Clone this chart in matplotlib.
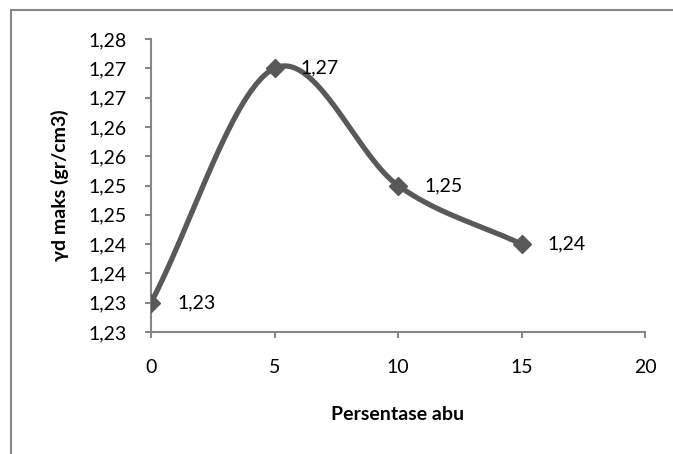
import numpy as np
import matplotlib.pyplot as plt
from matplotlib.patches import Rectangle
from matplotlib.ticker import FuncFormatter

plt.rcParams['font.family'] = ['Lato', 'DejaVu Sans']

persen_abu = [0, 5, 10, 15]
yd_maks = [1.23, 1.27, 1.25, 1.24]
y_ticks = [1.225, 1.23, 1.235, 1.24, 1.245, 1.25, 1.255, 1.26, 1.265, 1.27, 1.275]
x_ticks = [0, 5, 10, 15, 20]

line_col = '#595959'
axis_col = '#868686'


def koma(v, pos=None):
    return f"{v + 1e-9:.2f}".replace('.', ',')


def smooth(x, y, w, h, n=60):
    # excel-like smoothed line (catmull-rom bezier in screen units)
    px = np.array(x, float) / w
    py = np.array(y, float) / h
    pts = np.column_stack([px, py])
    k = len(pts)
    tan = np.zeros_like(pts)
    for i in range(k):
        a = pts[max(i - 1, 0)]
        b = pts[min(i + 1, k - 1)]
        tan[i] = (b - a) / (2 if 0 < i < k - 1 else 1)
    out = []
    t = np.linspace(0, 1, n)[:, None]
    for i in range(k - 1):
        p0, p3 = pts[i], pts[i + 1]
        p1 = p0 + tan[i] / 3
        p2 = p3 - tan[i + 1] / 3
        seg = ((1 - t) ** 3) * p0 + 3 * ((1 - t) ** 2) * t * p1 + 3 * (1 - t) * t ** 2 * p2 + t ** 3 * p3
        out.append(seg)
    out = np.vstack(out)
    return out[:, 0] * w, out[:, 1] * h


fig = plt.figure(figsize=(6.73, 4.54), dpi=100)
ax = fig.add_axes([151 / 673, 1 - 332 / 454, 494 / 673, 293 / 454])

sx, sy = smooth(persen_abu, yd_maks, 20 / 494, 0.05 / 293)
ax.plot(sx, sy, color=line_col, lw=3.8, solid_capstyle='round', zorder=2)
ax.plot(persen_abu, yd_maks, ls='none', marker='D', ms=9.5, color=line_col, zorder=3)

for xv, yv in zip(persen_abu, yd_maks):
    ax.annotate(koma(yv), (xv, yv), xytext=(19, 0), textcoords='offset points',
                ha='left', va='center', fontsize=14, color='black')

ax.set_xlim(0, 20)
ax.set_ylim(1.225, 1.275)
ax.set_xticks(x_ticks)
ax.set_yticks(y_ticks)
ax.yaxis.set_major_formatter(FuncFormatter(koma))

for s in ['top', 'right']:
    ax.spines[s].set_visible(False)
for s in ['left', 'bottom']:
    ax.spines[s].set_color(axis_col)
    ax.spines[s].set_linewidth(1.5)
ax.tick_params(axis='both', color=axis_col, width=1.5, length=4.3, labelsize=14)
ax.tick_params(axis='y', pad=13)
ax.tick_params(axis='x', pad=15)

ax.set_xlabel('Persentase abu', fontsize=14, fontweight='bold', va='center')
ax.xaxis.set_label_coords(0.5, (332 - 415) / 293)
ax.set_ylabel('γd maks (gr/cm3)', fontsize=14, fontweight='bold', va='center')
ax.yaxis.set_label_coords((60 - 151) / 494, 0.5)

fig.patches.append(Rectangle((11 / 673, -0.1), 1.2, 1.1 - 10 / 454, transform=fig.transFigure,
                             fill=False, edgecolor=axis_col, lw=1.5, zorder=0))

fig.savefig('out.png', dpi=100)
